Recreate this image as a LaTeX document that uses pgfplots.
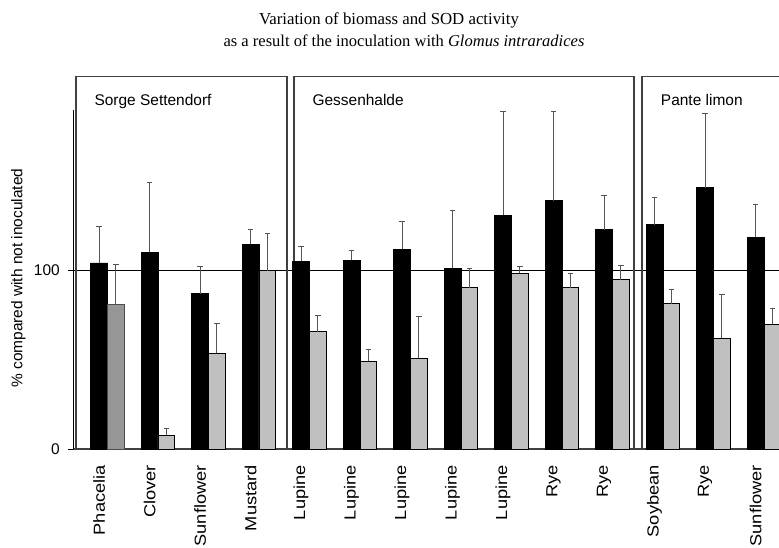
\documentclass[border=0pt]{standalone}
\usepackage{pgfplots}
\pgfplotsset{compat=1.18}
\usepackage{pgfplotstable}
\usepackage{fontspec}
\setmainfont{Liberation Serif}
\newfontfamily\arial{Liberation Sans}
\newfontfamily\arialwide[FakeStretch=1.14]{Liberation Sans}
\definecolor{barGray}{HTML}{C0C0C0}
\definecolor{barDark}{HTML}{969696}
\definecolor{boxLine}{HTML}{404040}
\definecolor{errLine}{HTML}{555555}

% black bars: biomass (x = category - 1/6), value, upper error
\pgfplotstableread{
x y e
-0.1667 104.3 20.6
0.8333 110.3 39.3
1.8333 87.1 15.1
2.8333 114.8 8.0
3.8333 105.3 8.2
4.8333 105.8 5.4
5.8333 112.0 15.3
6.8333 101.3 32.2
7.8333 130.9 58.1
8.8333 139.1 49.9
9.8333 123.0 18.9
10.8333 125.8 15.2
11.8333 146.4 41.5
12.8333 118.7 18.1
}\blacktab

% gray bars: SOD activity (x = category + 1/6)
\pgfplotstableread{
x y e
1.1667 7.7 3.9
2.1667 53.7 16.6
3.1667 100.0 20.7
4.1667 65.8 9.0
5.1667 49.2 6.5
6.1667 50.9 23.3
7.1667 90.3 10.8
8.1667 98.5 3.7
9.1667 90.3 8.2
10.1667 94.8 8.0
11.1667 81.5 7.7
12.1667 62.1 24.7
13.1667 69.9 9.0
}\graytab

\pgfplotstableread{
x y e
0.1667 80.9 22.7
}\darktab

\begin{document}
\begin{tikzpicture}[x=0.75pt,y=0.75pt]
\begin{axis}[
  at={(54.75pt,73.5pt)}, anchor=south west,
  scale only axis, width=529.5pt, height=254.25pt,
  xmin=-0.683, xmax=13.297, ymin=0, ymax=190,
  clip=false, set layers,
  axis x line*=bottom, axis y line*=left,
  x axis line style={boxLine, line width=1.3pt, -},
  y axis line style={black, line width=0.75pt, -},
  xtick={-0.1667,0.8333,1.8333,2.8333,3.8333,4.8333,5.8333,6.8333,7.8333,8.8333,9.8333,10.8333,11.8333,12.8333},
  xticklabels={Phacelia,Clover,Sunflower,Mustard,Lupine,Lupine,Lupine,Lupine,Lupine,Rye,Rye,Soybean,Rye,Sunflower},
  xtick style={draw=none},
  xtick align=inside,
  xticklabel style={rotate=90, anchor=east, inner sep=0pt, font=\arialwide\fontsize{12}{14}\selectfont},
  xticklabel shift=8.25pt,
  ytick={0,100},
  ytick align=outside,
  ytick style={black, line width=0.75pt},
  major tick length=3.75pt,
  yticklabel style={inner sep=0pt, font=\arial\fontsize{11.6}{13}\selectfont, /pgf/number format/assume math mode=true},
  yticklabel shift=6pt,
  ybar, bar width=0.3333, bar shift=0pt,
]
\begin{pgfonlayer}{axis background}
\draw[black, line width=0.75pt] (axis cs:-0.683,100) -- (axis cs:13.297,100);
\draw[boxLine, line width=0.9pt] (axis cs:-0.624,0) rectangle (axis cs:3.554,208.6);
\draw[boxLine, line width=0.9pt] (axis cs:3.693,0) rectangle (axis cs:10.426,208.6);
\draw[boxLine, line width=0.9pt] (axis cs:13.297,0) -- (axis cs:10.584,0) -- (axis cs:10.584,208.6) -- (axis cs:13.297,208.6);
\end{pgfonlayer}
\addplot[fill=black, draw=black, line width=0.6pt,
  error bars/.cd, y dir=plus, y explicit,
  error bar style={errLine, line width=0.8pt},
  error mark options={rotate=90, mark size=2pt, errLine, line width=0.8pt}]
  table[x=x, y=y, y error=e]{\blacktab};
\addplot[fill=barGray, draw=black, line width=0.6pt,
  error bars/.cd, y dir=plus, y explicit,
  error bar style={errLine, line width=0.8pt},
  error mark options={rotate=90, mark size=2pt, errLine, line width=0.8pt}]
  table[x=x, y=y, y error=e]{\graytab};
\addplot[fill=barDark, draw=black!70, line width=0.6pt,
  error bars/.cd, y dir=plus, y explicit,
  error bar style={errLine, line width=0.8pt},
  error mark options={rotate=90, mark size=2pt, errLine, line width=0.8pt}]
  table[x=x, y=y, y error=e]{\darktab};
\end{axis}
\node[anchor=base, inner sep=0pt, font=\fontsize{12.6}{15}\selectfont] at (389,522) {Variation of biomass and SOD activity};
\node[anchor=base, inner sep=0pt, font=\fontsize{12.4}{15}\selectfont] at (404,500) {as a result of the inoculation with \textit{Glomus intraradices}};
\node[anchor=base west, inner sep=0pt, font=\arial\fontsize{11.6}{13}\selectfont] at (94.3,441) {Sorge Settendorf};
\node[anchor=base west, inner sep=0pt, font=\arial\fontsize{11.6}{13}\selectfont] at (312.3,441) {Gessenhalde};
\node[anchor=base west, inner sep=0pt, font=\arial\fontsize{11.6}{13}\selectfont] at (660.7,441) {Pante limon};
\node[anchor=base west, rotate=90, inner sep=0pt, font=\arial\fontsize{11.6}{13}\selectfont] at (22.5,159) {\% compared with not inoculated};
\pgfresetboundingbox
\path[use as bounding box] (0,0) rectangle (779,547);
\end{tikzpicture}
\end{document}
